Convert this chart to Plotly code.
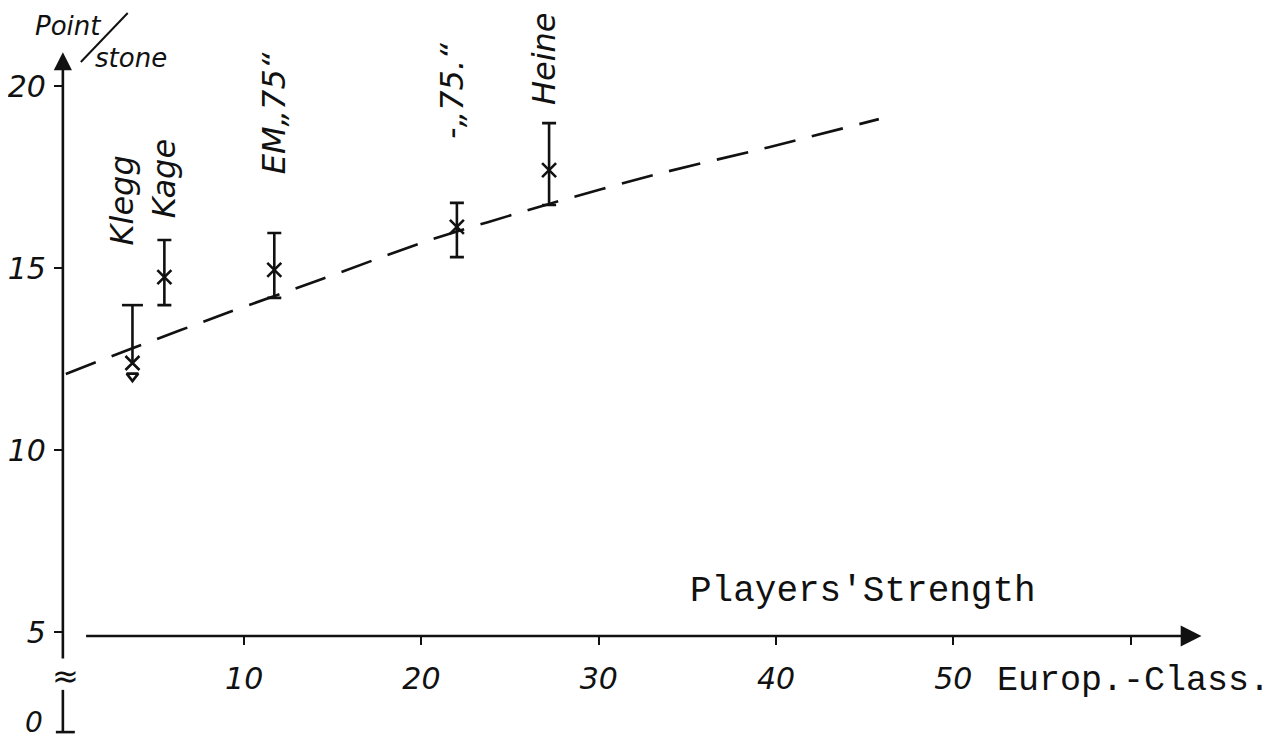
import plotly.graph_objects as go

# ---------------- data ----------------
players = ["Klegg", "Kage", "EM„75“", "-„75.“", "Heine"]
strength = [3.7, 5.5, 11.7, 22.0, 27.2]            # Europ.-Class
points = [12.39, 14.75, 14.95, 16.13, 17.69]       # Point/stone
err_plus = [1.59, 1.02, 1.01, 0.66, 1.29]
err_minus = [0.0, 0.77, 0.77, 0.83, 0.96]
klegg_limit = 12.03                                # arrow-head under Klegg

trend_x = [-0.06, 3.55, 9.17, 14.24, 20.3, 27.2, 33.3, 39.6, 45.8]
trend_y = [12.09, 12.77, 13.79, 14.67, 15.74, 16.76, 17.58, 18.32, 19.09]

x_ticks = [10, 20, 30, 40, 50, 60]
x_ticklabels = ["10", "20", "30", "40", "50", ""]
y_ticks = [5, 10, 15, 20]
y_ticklabels = ["5", "10", "15", "20"]
y_break_label = "0"      # label at the foot of the broken y axis

# ---------------- styling / layout ----------------
INK = "#111111"
HAND = "DejaVu Sans"
MONO = "Courier New, Liberation Mono, monospace"
OFF = 8                  # page body margin
W, H = 1288 - OFF, 740 - OFF
X_RANGE = [-3.151, 68.88]
Y_RANGE = [2.033, 22.143]
Y_AXIS_X = -0.225        # where the vertical axis is drawn
X_AXIS_Y = 4.89          # where the horizontal axis is drawn


def frac(v, rng):
    return (v - rng[0]) / (rng[1] - rng[0])


def pxx(px):             # screen pixel -> paper x
    return (px - OFF) / W


def pxy(py):             # screen pixel -> paper y
    return 1 - (py - OFF) / H


fig = go.Figure()

# dashed trend curve
fig.add_trace(go.Scatter(
    x=trend_x, y=trend_y, mode="lines",
    line=dict(color=INK, width=2.6, dash="32px,17px", shape="spline", smoothing=0.6),
    hoverinfo="skip", showlegend=False))

# Klegg: upper bar only (line + top cap)
fig.add_trace(go.Scatter(
    x=[strength[0], strength[0]], y=[points[0], points[0] + err_plus[0]],
    mode="lines", line=dict(color=INK, width=2.6), showlegend=False))
fig.add_trace(go.Scatter(
    x=[strength[0]], y=[points[0] + err_plus[0]], mode="markers",
    marker=dict(symbol="line-ew", size=15, color=INK, opacity=1,
                line=dict(width=2.6, color=INK)),
    showlegend=False))
fig.add_trace(go.Scatter(
    x=[strength[0]], y=[klegg_limit], mode="markers",
    marker=dict(symbol="triangle-down-open", size=10, color=INK, opacity=1,
                line=dict(width=2.6, color=INK)),
    showlegend=False))

# error bars for the other players
fig.add_trace(go.Scatter(
    x=strength[1:], y=points[1:], mode="markers",
    marker=dict(size=1, color="rgba(0,0,0,0)"),
    error_y=dict(type="data", symmetric=False, array=err_plus[1:],
                 arrayminus=err_minus[1:], width=7, thickness=2.6, color=INK),
    showlegend=False, hoverinfo="skip"))

# the measured points
fig.add_trace(go.Scatter(
    x=strength, y=points, mode="markers", text=players,
    marker=dict(symbol="x-thin", size=14, color=INK, opacity=1,
                line=dict(width=2.6, color=INK)),
    showlegend=False))

annotations = []
# rotated player labels
label_xshift = [-10, 0, 0, -5, -5]
label_ypix = [200, 179, 113, 91, 59]
for name, xv, dx, ypx in zip(players, strength, label_xshift, label_ypix):
    annotations.append(dict(
        x=xv, y=pxy(ypx), xref="x", yref="paper", text=name,
        textangle=-90, showarrow=False, xshift=dx,
        xanchor="center", yanchor="middle",
        font=dict(family=HAND, size=32, color=INK, style="italic")))

# axes with arrows
annotations.append(dict(
    x=Y_AXIS_X, y=20.93, ax=Y_AXIS_X, ay=4.23, xref="x", yref="y",
    axref="x", ayref="y", text="", showarrow=True, arrowhead=2,
    arrowsize=1.4, arrowwidth=2.6, arrowcolor=INK, standoff=0, startstandoff=0))
annotations.append(dict(
    x=64.0, y=X_AXIS_Y, ax=1.0, ay=X_AXIS_Y, xref="x", yref="y",
    axref="x", ayref="y", text="", showarrow=True, arrowhead=2,
    arrowsize=1.6, arrowwidth=2.6, arrowcolor=INK, standoff=0, startstandoff=0))

# axis break symbol and the "0" at the foot
annotations.append(dict(
    x=Y_AXIS_X, y=3.79, xref="x", yref="y", text="≈", showarrow=False,
    xshift=3, xanchor="center", yanchor="middle",
    font=dict(family="DejaVu Sans", size=32, color=INK)))
annotations.append(dict(
    x=pxx(31), y=0, xref="paper", yref="paper", text=y_break_label,
    showarrow=False, xanchor="center", yanchor="bottom", borderpad=0,
    font=dict(family=HAND, size=28, color=INK, style="italic")))

# axis titles
annotations.append(dict(
    x=pxx(65), y=pxy(26), xref="paper", yref="paper", text="Point",
    xanchor="center", yanchor="middle", showarrow=False,
    font=dict(family=HAND, size=26, color=INK, style="italic")))
annotations.append(dict(
    x=pxx(128), y=pxy(58), xref="paper", yref="paper", text="stone",
    xanchor="center", yanchor="middle", showarrow=False,
    font=dict(family=HAND, size=26, color=INK, style="italic")))
annotations.append(dict(
    x=pxx(862), y=pxy(591), xref="paper", yref="paper",
    text="Players'Strength", showarrow=False, xanchor="center", yanchor="middle",
    font=dict(family=MONO, size=36, color=INK)))
annotations.append(dict(
    x=pxx(1133), y=pxy(681), xref="paper", yref="paper",
    text="Europ.-Class.", showarrow=False, xanchor="center", yanchor="middle",
    font=dict(family=MONO, size=35, color=INK)))

shapes = [
    # slash in "Point/stone"
    dict(type="line", xref="paper", yref="paper",
         x0=pxx(78), y0=pxy(62), x1=pxx(125), y1=pxy(13),
         line=dict(color=INK, width=2)),
    # lower stub of broken y axis and its foot
    dict(type="line", xref="x", yref="y", x0=Y_AXIS_X, x1=Y_AXIS_X, y0=3.41, y1=2.25,
         line=dict(color=INK, width=2.6)),
    dict(type="line", xref="x", yref="y", x0=-0.62, x1=0.45, y0=2.25, y1=2.25,
         line=dict(color=INK, width=2.6)),
]

fig.update_layout(
    width=W, height=H,
    margin=dict(l=0, r=0, t=0, b=0),
    paper_bgcolor="white", plot_bgcolor="white",
    showlegend=False,
    annotations=annotations, shapes=shapes,
    xaxis=dict(range=X_RANGE, anchor="free", position=frac(X_AXIS_Y, Y_RANGE),
               showgrid=False, zeroline=False, showline=False,
               tickvals=x_ticks, ticktext=x_ticklabels,
               ticks="outside", ticklen=8, tickwidth=2.4, tickcolor=INK,
               ticklabelstandoff=8,
               tickfont=dict(family=HAND, size=30, color=INK, style="italic")),
    yaxis=dict(range=Y_RANGE, anchor="free", position=frac(Y_AXIS_X, X_RANGE),
               showgrid=False, zeroline=False, showline=False,
               tickvals=y_ticks, ticktext=y_ticklabels,
               ticks="outside", ticklen=9, tickwidth=2.4, tickcolor=INK,
               ticklabelstandoff=2,
               tickfont=dict(family=HAND, size=30, color=INK, style="italic")),
)

fig.write_html("out.html")
